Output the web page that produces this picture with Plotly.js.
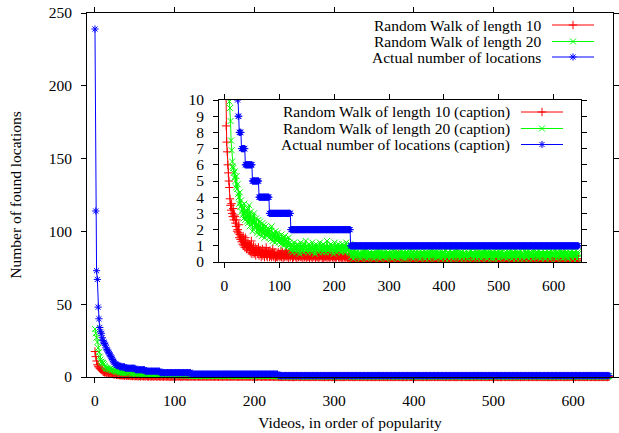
<!DOCTYPE html>
<html>
<head>
<meta charset="utf-8">
<script src="https://cdn.plot.ly/plotly-3.0.1.min.js"></script>
<style>html,body{margin:0;padding:0;background:#fff}#chart{width:619px;height:433px}</style>
</head>
<body>
<div id="chart"></div>
<script>
// ---- data ----
const seriesNames = ["Random Walk of length 10", "Random Walk of length 20", "Actual number of locations"];
const insetNames = ["Random Walk of length 10 (caption)", "Random Walk of length 20 (caption)", "Actual number of locations (caption)"];
const xTitle = "Videos, in order of popularity";
const yTitle = "Number of found locations";

const randomWalk10 = [
17.5,14,11,8.4,7.4,6.8,6,5.5,5,4.6,3.9,3.5,3.2,3.6,3.0,2.8,3.3,2.6,2.9,2.8,
2.4,2.2,2.6,1.9,2.0,1.8,2.3,1.5,1.7,1.4,1.6,1.25,1.4,1.1,1.6,1.0,1.3,0.9,1.5,1.1,
0.8,1.2,0.9,1.15,1.0,0.7,1.1,0.6,0.9,1.3,0.5,0.8,0.7,1.0,0.5,0.6,0.9,0.4,0.7,0.8,
0.6,0.5,0.9,0.4,0.7,0.74,0.5,0.3,0.6,0.8,0.4,0.5,0.7,0.3,0.6,0.5,0.9,0.4,0.3,0.6,
0.64,0.5,0.3,0.7,0.4,0.6,0.3,0.5,0.8,0.4,0.3,0.5,0.6,0.2,0.4,0.33,0.5,0.3,0.6,0.4,
0.5,0.3,0.4,0.7,0.3,0.5,0.6,0.2,0.4,0.5,0.3,0.6,0.4,0.7,0.3,0.5,0.4,0.2,0.6,0.5,
0.3,0.4,0.6,0.5,0.2,0.4,0.3,0.6,0.5,0.4,0.3,0.5,0.2,0.4,0.6,0.3,0.5,0.4,0.3,0.5,
0.4,0.3,0.5,0.2,0.6,0.4,0.3,0.5,0.4,0.2,0.5,0.3,0.4,0.6,0.3,0.2,0.5,0.4,0.3,0.5,
0.2,0.4,0.5,0.3,0.6,0.4,0.2,0.3,0.5,0.4,0.3,0.5,0.2,0.4,0.3,0.6,0.4,0.5,0.2,0.3,
0.4,0.2,0.5,0.3,0.4,0.3,0.6,0.2,0.4,0.5,0.3,0.4,0.2,0.5,0.3,0.4,0.5,0.3,0.2,0.4,
0.5,0.3,0.4,0.2,0.3,0.5,0.4,0.6,0.3,0.2,0.4,0.3,0.5,0.2,0.4,0.3,0.2,0.5,0.4,0.3,
0.2,0.4,0.3,0.5,0.2,0.3,0.4,0.2,0.3,0.5,
0.1,0.2,0.0,0.3,0.1,0.2,0.1,0.0,0.4,0.2,0.2,0.1,0.3,0.1,0.0,0.2,0.1,0.3,0.0,0.1,
0.0,0.1,0.2,0.1,0.5,0.1,0.0,0.2,0.1,0.3,0.3,0.1,0.0,0.2,0.1,0.1,0.4,0.0,0.2,0.1,
0.1,0.0,0.2,0.3,0.1,0.2,0.0,0.1,0.2,0.4,0.2,0.0,0.1,0.3,0.1,0.0,0.2,0.1,0.0,0.3,
0.0,0.2,0.1,0.0,0.3,0.1,0.2,0.0,0.1,0.2,0.1,0.4,0.0,0.1,0.2,0.0,0.3,0.1,0.2,0.0,
0.2,0.1,0.0,0.1,0.3,0.0,0.2,0.5,0.1,0.0,0.2,0.1,0.3,0.0,0.1,0.2,0.0,0.1,0.4,0.1,
0.1,0.3,0.0,0.2,0.1,0.0,0.1,0.2,0.3,0.0,0.1,0.2,0.0,0.1,0.3,0.1,0.0,0.2,0.1,0.0,
0.3,0.0,0.1,0.2,0.0,0.4,0.1,0.0,0.2,0.1,0.0,0.3,0.1,0.2,0.0,0.1,0.2,0.0,0.1,0.3,
0.0,0.1,0.3,0.0,0.2,0.1,0.0,0.2,0.1,0.5,0.0,0.1,0.2,0.0,0.3,0.1,0.0,0.1,0.2,0.0,
0.2,0.0,0.1,0.3,0.1,0.0,0.2,0.1,0.0,0.2,0.4,0.1,0.0,0.2,0.1,0.0,0.3,0.1,0.2,0.0,
0.1,0.2,0.0,0.1,0.3,0.2,0.0,0.1,0.2,0.0,0.1,0.3,0.0,0.2,0.1,0.4,0.0,0.1,0.2,0.1,
0.0,0.3,0.1,0.0,0.2,0.1,0.4,0.0,0.1,0.2,0.0,0.1,0.3,0.1,0.0,0.2,0.1,0.0,0.3,0.1,
0.2,0.1,0.0,0.2,0.0,0.1,0.3,0.1,0.0,0.2,0.1,0.0,0.5,0.1,0.2,0.0,0.1,0.3,0.0,0.1,
0.1,0.0,0.2,0.1,0.3,0.0,0.1,0.2,0.0,0.1,0.3,0.1,0.0,0.2,0.1,0.0,0.2,0.4,0.1,0.0,
0.3,0.1,0.0,0.1,0.2,0.0,0.3,0.1,0.1,0.0,0.2,0.1,0.0,0.3,0.2,0.1,0.0,0.1,0.2,0.0,
0.0,0.2,0.1,0.4,0.0,0.1,0.2,0.0,0.1,0.3,0.0,0.2,0.1,0.0,0.1,0.2,0.3,0.0,0.1,0.2,
0.1,0.0,0.3,0.1,0.0,0.2,0.1,0.0,0.2,0.1,0.5,0.0,0.1,0.2,0.0,0.1,0.3,0.1,0.0,0.2,
0.2,0.1,0.0,0.3,0.1,0.0,0.1,0.2,0.0,0.4,0.1,0.0,0.2,0.1,0.3,0.0,0.1,0.2,0.0,0.1,
0.0,0.1,0.2,0.0,0.1,0.3,0.0,0.2,0.1,0.0,0.2,0.1,0.0,0.3,0.1,0.2,0.0,0.4,0.1,0.0,
0.1,0.3,0.0,0.1,0.2,0.0,0.1,0.2,0.3,0.1,0.0,0.2,0.1,0.0,0.2,0.1,0.3,0.0,0.1,0.2,
0.2,0.0,0.1,0.3,0.0,0.1,0.2,0.1,0.0,0.5,0.2,0.1,0.0,0.1,0.3,0.0,0.2,0.1,0.0,0.1,
0.1,0.2,0.0,0.1,0.3,0.1,0.0,0.2,0.1,0.4,0.0,0.1,0.2,0.0,0.1,0.2
];

const randomWalk20 = [
33,30,27,24,20,17,14,12,10.5,9.9,9.5,8.7,7.5,6.9,6.2,5.9,5.8,5.5,5.2,5.6,
5.0,4.6,5.3,4.5,4.8,4.2,4.0,3.6,4.3,3.4,3.8,3.1,3.5,2.9,3.3,2.7,3.6,3.0,2.6,3.2,
2.8,2.5,3.3,2.4,2.9,3.5,2.2,2.7,3.1,2.3,2.6,1.9,2.8,2.4,3.0,2.1,2.5,2.2,2.7,1.8,
2.3,2.0,2.6,1.7,2.2,2.5,1.9,2.1,1.6,2.4,1.8,2.0,2.3,1.5,1.9,2.2,1.7,2.0,1.6,2.1,
1.8,1.5,2.0,1.7,1.4,1.9,2.2,1.6,1.3,1.8,1.5,1.7,1.2,1.9,1.4,1.6,1.3,1.8,1.5,1.2,
1.6,1.3,1.5,1.1,1.7,1.4,1.2,1.5,1.0,1.3,1.6,1.1,1.4,1.2,0.9,1.3,1.1,1.5,1.0,1.2,
0.9,0.7,1.1,0.8,0.6,1.0,0.9,1.2,0.7,0.8,1.0,0.6,0.9,1.1,0.8,0.7,1.0,0.5,0.9,1.2,
0.8,1.0,0.7,0.9,0.6,1.1,0.8,0.9,1.3,0.7,1.0,0.8,0.6,0.9,1.1,0.7,0.8,1.0,0.9,0.6,
1.2,0.8,0.7,1.0,0.9,0.5,0.8,1.1,0.7,0.9,1.0,0.8,0.6,0.9,1.2,0.7,1.0,0.8,0.9,0.6,
1.1,0.7,0.9,0.8,1.0,0.6,0.9,1.3,0.8,0.7,1.0,0.9,0.6,0.8,1.1,0.7,0.9,1.0,0.8,0.5,
0.9,1.2,0.7,0.8,1.0,0.6,0.9,0.8,1.1,0.7,0.8,1.0,0.9,0.6,0.7,1.1,0.8,0.9,1.0,0.7,
0.6,0.9,1.2,0.8,0.7,1.0,0.9,0.6,0.8,1.1,
0.5,0.3,0.7,0.4,0.6,0.2,0.5,0.8,0.4,0.6,0.3,0.6,0.4,0.7,0.5,0.3,0.6,0.4,0.2,0.5,
0.7,0.4,0.5,0.3,0.6,0.5,0.8,0.3,0.4,0.6,0.2,0.5,0.7,0.4,0.3,0.6,0.5,0.4,0.7,0.3,
0.4,0.6,0.2,0.5,0.7,0.3,0.4,0.6,0.5,0.3,0.8,0.4,0.5,0.2,0.6,0.4,0.7,0.3,0.5,0.6,
0.3,0.5,0.6,0.4,0.2,0.7,0.5,0.3,0.6,0.4,0.5,0.7,0.3,0.4,0.6,0.2,0.5,0.4,0.8,0.3,
0.6,0.4,0.3,0.7,0.5,0.4,0.2,0.6,0.5,0.3,0.4,0.6,0.7,0.3,0.5,0.4,0.6,0.2,0.4,0.7,
0.5,0.2,0.6,0.4,0.7,0.3,0.5,0.6,0.4,0.8,0.3,0.5,0.4,0.6,0.2,0.7,0.4,0.5,0.3,0.6,
0.4,0.7,0.3,0.5,0.6,0.4,0.2,0.5,0.7,0.3,0.6,0.4,0.5,0.3,0.7,0.5,0.2,0.6,0.4,0.5,
0.3,0.6,0.5,0.2,0.4,0.7,0.6,0.3,0.5,0.4,0.8,0.3,0.6,0.5,0.4,0.2,0.6,0.3,0.7,0.4,
0.6,0.3,0.4,0.5,0.7,0.2,0.5,0.4,0.6,0.3,0.5,0.6,0.2,0.7,0.4,0.5,0.3,0.6,0.4,0.5,
0.2,0.5,0.7,0.4,0.3,0.6,0.5,0.2,0.4,0.7,0.3,0.5,0.6,0.4,0.8,0.3,0.4,0.6,0.5,0.2,
0.5,0.4,0.6,0.3,0.7,0.5,0.2,0.4,0.6,0.5,0.3,0.7,0.4,0.2,0.5,0.6,0.3,0.5,0.7,0.4,
0.7,0.3,0.5,0.6,0.2,0.4,0.5,0.7,0.3,0.6,0.4,0.2,0.6,0.5,0.3,0.7,0.4,0.6,0.2,0.5,
0.4,0.6,0.3,0.5,0.4,0.8,0.3,0.5,0.6,0.2,0.5,0.4,0.7,0.3,0.6,0.4,0.5,0.2,0.6,0.3,
0.6,0.2,0.5,0.7,0.4,0.3,0.6,0.4,0.5,0.7,0.2,0.6,0.3,0.5,0.4,0.6,0.7,0.3,0.4,0.5,
0.3,0.5,0.4,0.6,0.2,0.7,0.5,0.3,0.4,0.6,0.5,0.3,0.8,0.4,0.2,0.5,0.6,0.4,0.3,0.7,
0.5,0.7,0.2,0.4,0.6,0.3,0.5,0.6,0.4,0.2,0.7,0.5,0.3,0.6,0.4,0.5,0.2,0.7,0.4,0.6,
0.4,0.3,0.6,0.5,0.7,0.2,0.4,0.5,0.6,0.3,0.5,0.4,0.2,0.6,0.7,0.3,0.5,0.4,0.6,0.3,
0.6,0.5,0.3,0.7,0.4,0.5,0.2,0.6,0.3,0.5,0.4,0.7,0.5,0.3,0.6,0.2,0.4,0.5,0.7,0.4,
0.3,0.6,0.4,0.2,0.5,0.7,0.3,0.6,0.5,0.4,0.6,0.3,0.5,0.8,0.4,0.2,0.6,0.5,0.3,0.6,
0.5,0.4,0.7,0.3,0.6,0.4,0.5,0.2,0.6,0.5,0.3,0.7,0.4,0.5,0.6,0.3,0.2,0.5,0.4,0.6,
0.4,0.6,0.3,0.5,0.7,0.2,0.5,0.4,0.6,0.3,0.5,0.7,0.4,0.2,0.6,0.5
];

const actualLocations = [
239,114,73,67,48,40,34,31,30,27,25,24,23,22,20,19,18,17,16,15,14,13,12,11,
10,9,9,8,8,8,8,
7,7,7,7,7,7,7,
6,6,6,6,6,6,6,6,6,6,6,6,6,
5,5,5,5,5,5,5,5,5,5,5,5,
4,4,4,4,4,4,4,4,4,4,4,4,4,4,4,4,4,4,4,
3,3,3,3,3,3,3,3,3,3,3,3,3,3,3,3,3,3,3,3,
3,3,3,3,3,3,3,3,3,3,3,3,3,3,3,3,3,3,3,
2,2,2,2,2,2,2,2,2,2,2,2,2,2,2,2,2,2,2,2,
2,2,2,2,2,2,2,2,2,2,2,2,2,2,2,2,2,2,2,2,
2,2,2,2,2,2,2,2,2,2,2,2,2,2,2,2,2,2,2,2,
2,2,2,2,2,2,2,2,2,2,2,2,2,2,2,2,2,2,2,2,
2,2,2,2,2,2,2,2,2,2,2,2,2,2,2,2,2,2,2,2,
2,2,2,2,2,2,2,2,2,
1,1,1,1,1,1,1,1,1,1,1,1,1,1,1,1,1,1,1,1,
1,1,1,1,1,1,1,1,1,1,1,1,1,1,1,1,1,1,1,1,
1,1,1,1,1,1,1,1,1,1,1,1,1,1,1,1,1,1,1,1,
1,1,1,1,1,1,1,1,1,1,1,1,1,1,1,1,1,1,1,1,
1,1,1,1,1,1,1,1,1,1,1,1,1,1,1,1,1,1,1,1,
1,1,1,1,1,1,1,1,1,1,1,1,1,1,1,1,1,1,1,1,
1,1,1,1,1,1,1,1,1,1,1,1,1,1,1,1,1,1,1,1,
1,1,1,1,1,1,1,1,1,1,1,1,1,1,1,1,1,1,1,1,
1,1,1,1,1,1,1,1,1,1,1,1,1,1,1,1,1,1,1,1,
1,1,1,1,1,1,1,1,1,1,1,1,1,1,1,1,1,1,1,1,
1,1,1,1,1,1,1,1,1,1,1,1,1,1,1,1,1,1,1,1,
1,1,1,1,1,1,1,1,1,1,1,1,1,1,1,1,1,1,1,1,
1,1,1,1,1,1,1,1,1,1,1,1,1,1,1,1,1,1,1,1,
1,1,1,1,1,1,1,1,1,1,1,1,1,1,1,1,1,1,1,1,
1,1,1,1,1,1,1,1,1,1,1,1,1,1,1,1,1,1,1,1,
1,1,1,1,1,1,1,1,1,1,1,1,1,1,1,1,1,1,1,1,
1,1,1,1,1,1,1,1,1,1,1,1,1,1,1,1,1,1,1,1,
1,1,1,1,1,1,1,1,1,1,1,1,1,1,1,1,1,1,1,1,
1,1,1,1,1,1,1,1,1,1,1,1,1,1,1,1,1,1,1,1,
1,1,1,1,1,1,1,1,1,1,1,1,1,1,1,1,1,1,1,1,
1,1,1,1,1,1,1,1,1,1,1,1,1,1,1,1
];

const xTicks = [0, 100, 200, 300, 400, 500, 600];
const yTicksMain = [0, 50, 100, 150, 200, 250];
const yTicksInset = [0, 1, 2, 3, 4, 5, 6, 7, 8, 9, 10];

// ---- styling ----
const FONT = 'Liberation Serif, Times New Roman, Times, serif';
const FS = 15.5;
const colors = ['#ff0000', '#00ff00', '#0000ff'];
const symbols = ['cross-thin', 'x-thin', 'asterisk'];
const allSeries = [randomWalk10, randomWalk20, actualLocations];

const W = 619, H = 433;
const M = {l: 87, r: 6, t: 13, b: 56};
const PW = W - M.l - M.r, PH = H - M.t - M.b;
const px = v => (v - M.l) / PW;      // pixel -> paper x
const py = v => (H - M.b - v) / PH;  // pixel -> paper y

const traces = [];
const legends = {};
const annotations = [];

function addGroup(names, xa, ya, legendOffset, lineLeft, textRight, rowYs, clip) {
  allSeries.forEach((vals, i) => {
    const legendId = 'legend' + (legendOffset + i === 1 ? '' : (legendOffset + i));
    traces.push({
      type: 'scatter',
      mode: 'lines+markers',
      x: vals.map((_, k) => k),
      y: vals,
      xaxis: xa, yaxis: ya,
      name: ' ',
      legend: legendId,
      showlegend: true,
      cliponaxis: clip,
      line: {color: colors[i], width: 1},
      marker: {symbol: symbols[i], size: 6, color: colors[i], line: {color: colors[i], width: 1}},
      hoverinfo: 'skip'
    });
    legends[legendId] = {
      x: px(lineLeft - 5), y: py(rowYs[i]), xanchor: 'left', yanchor: 'middle',
      bgcolor: 'rgba(0,0,0,0)', borderwidth: 0, itemwidth: 42,
      font: {family: FONT, size: 10, color: '#000'}, tracegroupgap: 0
    };
    annotations.push({
      xref: 'paper', yref: 'paper', x: px(textRight), y: py(rowYs[i]),
      xanchor: 'right', yanchor: 'middle', align: 'right', showarrow: false,
      text: names[i], font: {family: FONT, size: FS, color: '#000'}
    });
  });
}

addGroup(seriesNames, 'x', 'y', 1, 552, 543, [25, 41.5, 57], false);
addGroup(insetNames, 'x2', 'y2', 4, 521, 511.5, [112, 128.5, 144.5], true);

const axisCommon = {
  showline: true, linecolor: '#000', linewidth: 1, mirror: 'allticks',
  ticks: 'outside', ticklen: 5, tickwidth: 1, tickcolor: '#000',
  showgrid: false, zeroline: false,
  tickfont: {family: FONT, size: FS, color: '#000'}
};

const layout = Object.assign({
  width: W, height: H, margin: M,
  paper_bgcolor: '#fff', plot_bgcolor: '#fff',
  showlegend: true,
  font: {family: FONT, size: FS, color: '#000'},
  xaxis: Object.assign({}, axisCommon, {
    range: [-10, 650], tickvals: xTicks, ticklabelstandoff: 4,
    title: {text: xTitle, font: {family: FONT, size: FS, color: '#000'}, standoff: 9}
  }),
  yaxis: Object.assign({}, axisCommon, {
    range: [0, 250], tickvals: yTicksMain, ticklabelstandoff: 6,
    title: {text: yTitle, font: {family: FONT, size: FS, color: '#000'}, standoff: 23}
  }),
  xaxis2: Object.assign({}, axisCommon, {
    domain: [px(219), px(581)], anchor: 'y2',
    range: [-10, 650], tickvals: xTicks, ticklabelstandoff: 4
  }),
  yaxis2: Object.assign({}, axisCommon, {
    domain: [py(262), py(100)], anchor: 'x2',
    range: [0, 10], tickvals: yTicksInset, ticklabelstandoff: 6
  }),
  annotations: annotations
}, legends);

Plotly.newPlot('chart', traces, layout, {staticPlot: true, displayModeBar: false});
</script>
</body>
</html>
